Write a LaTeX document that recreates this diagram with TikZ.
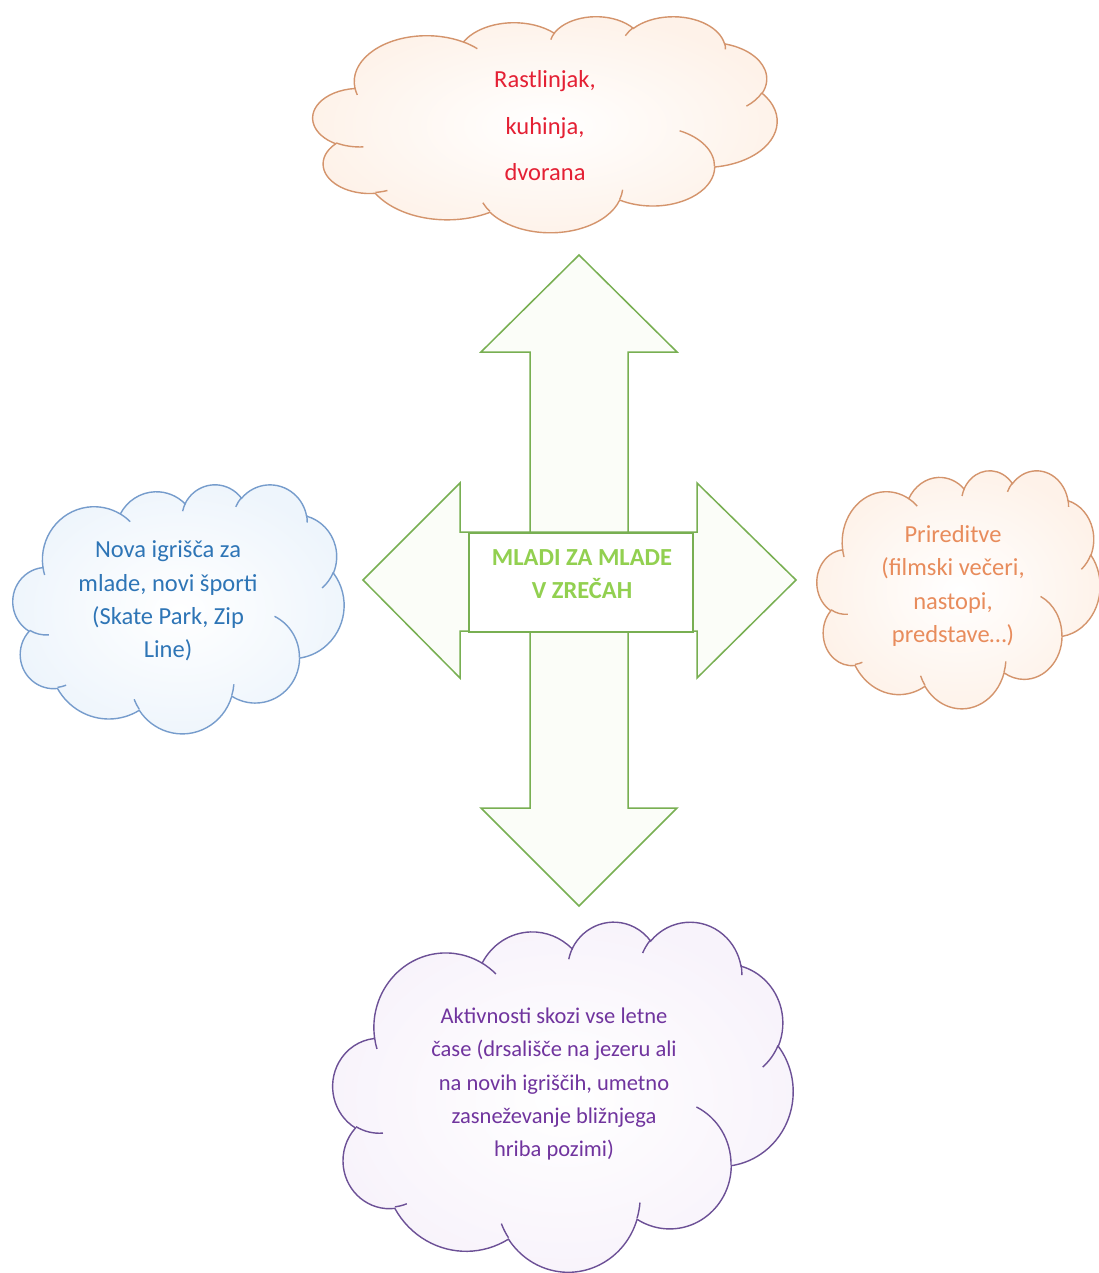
\documentclass[tikz,border=0pt]{standalone}
\usepackage{fontspec}
\setmainfont{Carlito}
\definecolor{arrowgreen}{RGB}{120,175,82}
\definecolor{arrowfill}{RGB}{251,253,248}
\definecolor{titlegreen}{RGB}{146,208,80}
\definecolor{orangeline}{RGB}{212,148,108}
\definecolor{peach}{RGB}{254,242,233}
\definecolor{blueline}{RGB}{118,156,204}
\definecolor{bluetint}{RGB}{238,245,252}
\definecolor{purpleline}{RGB}{108,80,150}
\definecolor{lavender}{RGB}{248,243,251}
\definecolor{redtext}{RGB}{228,32,52}
\definecolor{bluetext}{RGB}{46,117,182}
\definecolor{orangetext}{RGB}{232,140,92}
\definecolor{purpletext}{RGB}{112,52,158}

% elliptical arc in the manner of DrawingML arcTo (visual angles, y downwards)
\newcommand\oarc[4]{%
  \pgfextra{%
    \pgfmathparse{atan2((#1)*sin(#3),(#2)*cos(#3))}\global\let\oarcA\pgfmathresult
    \pgfmathparse{atan2((#1)*sin((#3)+(#4)),(#2)*cos((#3)+(#4)))}\global\let\oarcB\pgfmathresult
    \pgfmathparse{0-mod((\oarcB)-(\oarcA)+720,360)}\global\let\oarcD\pgfmathresult
    \pgfmathparse{0-(\oarcA)}\global\let\oarcS\pgfmathresult
    \pgfmathparse{(#1)*\csx}\xdef\oarcX{\pgfmathresult pt}%
    \pgfmathparse{(#2)*\csy}\xdef\oarcY{\pgfmathresult pt}%
  }%
  arc[start angle=\oarcS, delta angle=\oarcD, x radius=\oarcX, y radius=\oarcY]}

% cloud: #1 x0, #2 y0, #3 width, #4 height, #5 line colour, #6 tint colour
\newcommand\officecloud[6]{%
  \pgfmathsetmacro\cx{#1}\pgfmathsetmacro\cy{#2}%
  \pgfmathsetmacro\csx{#3/432}\pgfmathsetmacro\csy{#4/432}%
  \path[inner color=white, outer color=#6, draw=#5, line width=1.4pt]
    ({\cx+39.00*\csx},{\cy+143.70*\csy})
    \oarc{67.53}{91.90}{-190.4875}{123.7805}
    \oarc{53.33}{72.67}{-144.1024}{89.9452}
    \oarc{43.65}{59.45}{-145.8079}{99.7230}
    \oarc{48.57}{65.95}{-130.9861}{117.2417}
    \oarc{53.33}{72.73}{-78.7089}{109.0269}
    \oarc{67.75}{92.20}{-46.2673}{130.2690}
    \oarc{57.85}{78.67}{0.6250}{114.0333}
    \oarc{67.52}{92.15}{22.4516}{115.1726}
    \oarc{77.20}{105.43}{66.2426}{75.7110}
    \oarc{43.60}{59.18}{-274.9421}{146.7356}
    \oarc{43.45}{59.45}{-246.8285}{152.5189}
    -- cycle;
  \draw[#5, line width=1.4pt]
    ({\cx+46.93*\csx},{\cy+261.77*\csy}) \oarc{43.45}{59.45}{86.7420}{26.4295}
    ({\cx+69.28*\csx},{\cy+348.99*\csy}) \oarc{43.60}{59.18}{73.6105}{11.4475}
    ({\cx+164.78*\csx},{\cy+390.90*\csy}) \oarc{67.52}{92.15}{137.6242}{14.0811}
    ({\cx+288.27*\csx},{\cy+347.51*\csy}) \oarc{67.52}{92.15}{6.4533}{15.9984}
    ({\cx+341.29*\csx},{\cy+229.54*\csy}) \oarc{57.85}{78.67}{-70.2924}{70.9174}
    ({\cx+417.98*\csx},{\cy+153.54*\csy}) \oarc{53.33}{72.73}{30.3180}{27.7515}
    ({\cx+383.24*\csx},{\cy+54.26*\csy}) \oarc{48.57}{65.95}{-13.7443}{14.8589}
    ({\cx+290.78*\csx},{\cy+39.52*\csy}) \oarc{48.57}{65.95}{-149.1815}{18.1954}
    ({\cx+221.41*\csx},{\cy+47.20*\csy}) \oarc{43.65}{59.45}{-163.4943}{17.6864}
    ({\cx+140.00*\csx},{\cy+51.92*\csy}) \oarc{67.53}{91.90}{-66.7070}{12.3194}
    ({\cx+41.27*\csx},{\cy+157.89*\csy}) \oarc{67.53}{91.90}{157.6544}{11.8582};
}

\tikzset{
  arrowshape/.style={draw=arrowgreen, fill=arrowfill, line width=1.5pt},
  hubbox/.style={draw=arrowgreen, fill=white, line width=1.5pt, minimum width=224pt, minimum height=99pt, inner sep=0pt},
  hubtext/.style={align=center, inner sep=0pt, text=titlegreen, font=\bfseries\fontsize{24.5}{33}\selectfont},
  cloudtext/.style={align=center, inner sep=0pt, font=\fontsize{24.5}{33.3}\selectfont},
}

\begin{document}
\begin{tikzpicture}[x=1pt,y=-1pt]
\path[use as bounding box, fill=white] (0,0) rectangle (1099,1273);

% vertical double arrow
\draw[arrowshape] (579,255) -- (677,352) -- (628,352) -- (628,808) -- (677,808)
  -- (579,906) -- (481,808) -- (530,808) -- (530,352) -- (481,352) -- cycle;
% horizontal double arrow
\draw[arrowshape] (363,580) -- (460,483) -- (460,532) -- (697,532) -- (697,483)
  -- (796,580) -- (697,678) -- (697,631) -- (460,631) -- (460,678) -- cycle;
% centre box
\node[hubbox] (hub) at (581,582.5) {};
\node[hubtext] (title) at (582,574) {MLADI ZA MLADE\\V ZREČAH};

% top cloud
\officecloud{313}{16}{464}{216}{orangeline}{peach}
\node[cloudtext, text=redtext, font=\fontsize{24.5}{46.5}\selectfont] (topcloud) at (545,126) {Rastlinjak,\\kuhinja,\\dvorana};

% left cloud
\officecloud{13}{484}{331}{249}{blueline}{bluetint}
\node[cloudtext, text=bluetext] (leftcloud) at (168,601) {Nova igrišča za\\mlade, novi športi\\(Skate Park, Zip\\Line)};

% right cloud
\officecloud{817}{470}{283}{238}{orangeline}{peach}
\node[cloudtext, text=orangetext] (rightcloud) at (953,586) {Prireditve\\(filmski večeri,\\nastopi,\\predstave…)};

% bottom cloud
\officecloud{333}{921}{460}{350}{purpleline}{lavender}
\node[cloudtext, text=purpletext, font=\fontsize{22.5}{33.3}\selectfont] (bottomcloud) at (554,1084) {Aktivnosti skozi vse letne\\čase (drsališče na jezeru ali\\na novih igriščih, umetno\\zasneževanje bližnjega\\hriba pozimi)};
\end{tikzpicture}
\end{document}
